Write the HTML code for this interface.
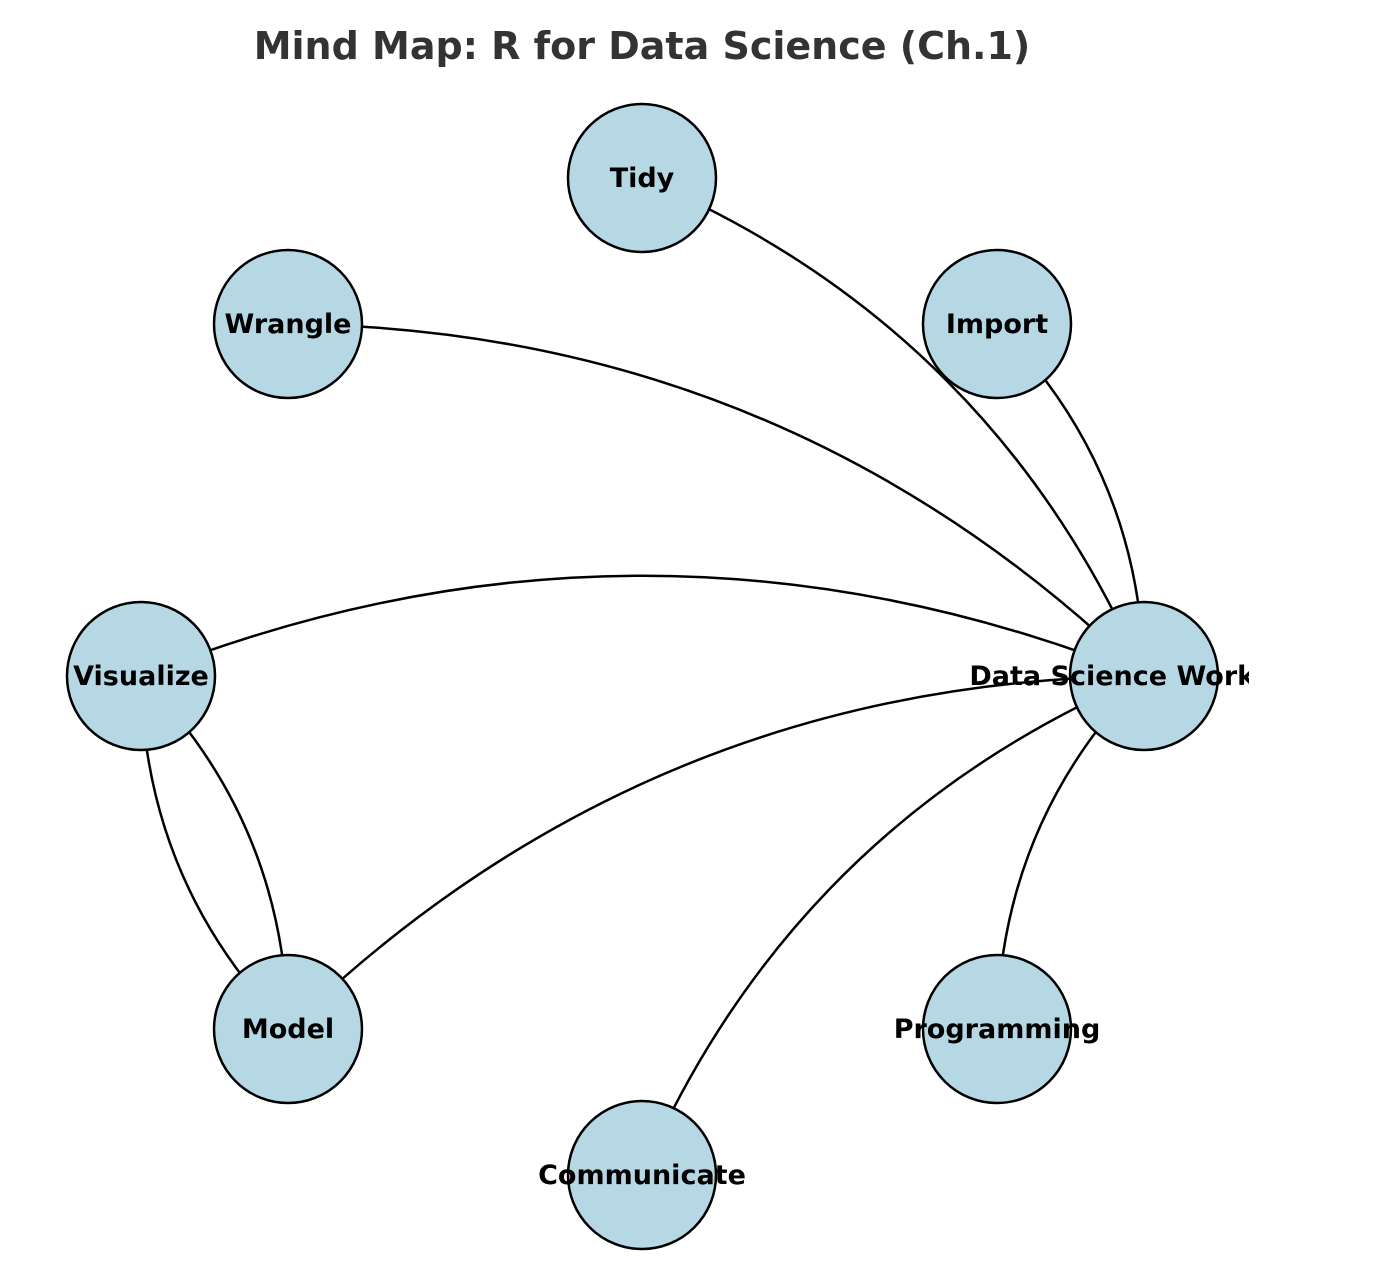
<!DOCTYPE html>
<html><head><meta charset="utf-8"><style>
html,body{margin:0;padding:0;background:#fff;}
svg{display:block;}
text{font-family:"DejaVu Sans","Liberation Sans",sans-serif;font-weight:bold;}
</style></head><body>
<svg id="chart" width="1394" height="1272" viewBox="0 0 1394 1272">
<defs><clipPath id="axclip"><rect x="0" y="70" width="1249" height="1202"/></clipPath></defs>
<text x="642" y="59" text-anchor="middle" font-size="38" fill="#333333">Mind Map: R for Data Science (Ch.1)</text>
<g id="edges"></g>
<g id="nodes" clip-path="url(#axclip)"></g>
</svg>
<script>
const nodeNames = ["Data Science Workflow","Import","Tidy","Wrangle","Visualize","Model","Communicate","Programming"];
const nodeX = [1144,997,642,288,141,288,642,997];
const nodeY = [676,324,178,324,676,1029,1175,1029];
const edgeSource = [0,0,0,0,0,0,0,4,5];
const edgeTarget = [1,2,3,4,5,6,7,5,4];
const rad = 0.2, R = 74;
const NS = "http://www.w3.org/2000/svg";
const eg = document.getElementById("edges");
for (let i = 0; i < edgeSource.length; i++) {
  const x1 = nodeX[edgeSource[i]], y1 = nodeY[edgeSource[i]];
  const x2 = nodeX[edgeTarget[i]], y2 = nodeY[edgeTarget[i]];
  const dx = x2 - x1, dy = y2 - y1;
  const cx = (x1 + x2) / 2 - rad * dy, cy = (y1 + y2) / 2 + rad * dx;
  const p = document.createElementNS(NS, "path");
  p.setAttribute("d", `M${x1},${y1} Q${cx},${cy} ${x2},${y2}`);
  p.setAttribute("fill", "none");
  p.setAttribute("stroke", "#000");
  p.setAttribute("stroke-width", "2.5");
  
  
  eg.appendChild(p);
}
const ng = document.getElementById("nodes");
for (let i = 0; i < nodeNames.length; i++) {
  const c = document.createElementNS(NS, "circle");
  c.setAttribute("cx", nodeX[i]); c.setAttribute("cy", nodeY[i]); c.setAttribute("r", R);
  c.setAttribute("fill", "#b6d8e4"); c.setAttribute("stroke", "#000"); c.setAttribute("stroke-width", "2.5");
  
  
  ng.appendChild(c);
}
for (let i = 0; i < nodeNames.length; i++) {
  const t = document.createElementNS(NS, "text");
  t.setAttribute("x", nodeX[i]); t.setAttribute("y", nodeY[i] + 9);
  t.setAttribute("text-anchor", "middle"); t.setAttribute("font-size", "27");
  t.setAttribute("fill", "#000");
  t.textContent = nodeNames[i];
  
  
  ng.appendChild(t);
}
</script>
</body></html>
